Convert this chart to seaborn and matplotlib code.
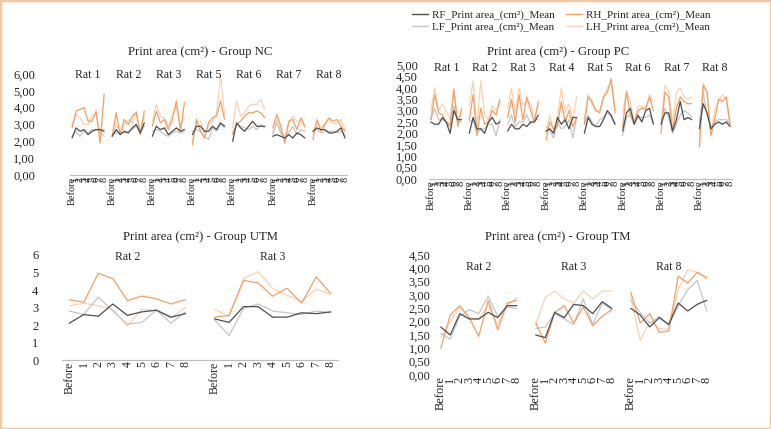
import pandas as pd
import seaborn as sns
import matplotlib.pyplot as plt
from matplotlib.lines import Line2D
from matplotlib.patches import Rectangle
from matplotlib.ticker import FuncFormatter, MultipleLocator

sns.set_style("white")
plt.rcParams['font.family'] = ['Liberation Serif', 'DejaVu Serif']

# time points, same for every rat
times = ["Before", "1", "2", "3", "4", "5", "6", "7", "8"]
colors = {"RF": "#4d4d4d", "LF": "#c6c6c6", "RH": "#f2a064", "LH": "#f9d2b2"}
legend_names = {s: s + "_Print area_(cm²)_Mean" for s in ["RF", "LF", "RH", "LH"]}

# group NC
nc_rats = ["Rat 1", "Rat 2", "Rat 3", "Rat 5", "Rat 6", "Rat 7", "Rat 8"]
nc_rf = [2.2, 2.8, 2.6, 2.7, 2.4, 2.6, 2.7, 2.7, 2.6,
         2.3, 2.7, 2.4, 2.6, 2.5, 2.8, 3.0, 2.5, 3.1,
         2.3, 2.9, 2.7, 2.8, 2.4, 2.6, 2.8, 2.6, 2.7,
         2.4, 2.9, 2.9, 2.6, 2.6, 2.9, 2.7, 3.1, 2.9,
         2.0, 3.1, 2.8, 2.6, 2.9, 3.2, 2.9, 2.9, 2.9,
         2.3, 2.4, 2.3, 2.2, 2.4, 2.2, 2.5, 2.4, 2.2,
         2.6, 2.8, 2.7, 2.7, 2.5, 2.5, 2.6, 2.8, 2.2]
nc_lf = [2.3, 2.6, 2.3, 2.6, 2.5, 2.7, 2.7, 2.6, 2.3,
         2.4, 2.5, 2.5, 2.5, 2.6, 2.7, 2.9, 2.5, 2.9,
         2.6, 2.7, 2.6, 2.4, 2.3, 2.5, 2.6, 2.5, 2.6,
         2.6, 2.7, 2.6, 2.3, 2.1, 2.8, 2.6, 3.0, 2.8,
         2.5, 3.0, 2.9, 2.8, 2.7, 2.9, 2.7, 3.0, 2.8,
         2.4, 3.1, 2.5, 2.1, 2.5, 2.9, 2.4, 2.7, 2.6,
         2.6, 2.7, 2.5, 2.6, 2.6, 2.6, 2.5, 2.6, 2.4]
nc_rh = [2.8, 3.8, 3.9, 4.0, 3.2, 3.2, 3.8, 1.9, 4.8,
         2.3, 3.7, 2.4, 3.3, 3.0, 3.5, 3.7, 2.4, 3.8,
         2.9, 3.8, 3.1, 3.3, 2.7, 3.3, 4.4, 2.6, 4.3,
         1.8, 3.3, 2.6, 2.2, 3.1, 3.4, 3.5, 4.4, 3.3,
         2.4, 3.0, 3.2, 3.5, 3.7, 3.7, 3.8, 3.7, 3.4,
         2.8, 3.6, 2.9, 1.9, 3.2, 3.3, 2.7, 3.4, 2.9,
         2.1, 3.3, 2.6, 3.0, 3.4, 3.2, 3.3, 2.9, 2.6]
nc_lh = [3.0, 3.6, 3.4, 3.0, 3.0, 3.5, 3.6, 2.4, 2.8,
         2.3, 3.0, 2.5, 3.0, 3.3, 3.1, 3.8, 2.6, 3.5,
         3.2, 4.2, 3.5, 3.4, 2.9, 3.6, 4.0, 3.0, 3.4,
         2.0, 3.1, 3.2, 2.5, 2.9, 3.2, 3.7, 5.9, 3.6,
         2.8, 4.4, 3.5, 3.7, 4.1, 4.2, 4.2, 4.5, 3.9,
         2.5, 3.3, 2.6, 2.3, 3.1, 3.5, 3.2, 3.2, 2.8,
         2.4, 3.2, 2.8, 3.1, 3.3, 3.1, 3.1, 3.3, 2.7]

# group PC
pc_rats = ["Rat 1", "Rat 2", "Rat 3", "Rat 4", "Rat 5", "Rat 6", "Rat 7", "Rat 8"]
pc_rf = [2.5, 2.4, 2.4, 2.7, 2.5, 2.0, 3.0, 2.6, 2.6,
         2.0, 2.7, 2.2, 2.2, 2.0, 2.5, 2.7, 2.4, 2.5,
         2.1, 2.4, 2.2, 2.2, 2.4, 2.3, 2.5, 2.5, 2.8,
         2.1, 2.2, 2.0, 2.7, 2.4, 2.6, 2.2, 2.7, 2.7,
         2.0, 2.7, 2.4, 2.3, 2.3, 2.6, 3.0, 2.8, 2.4,
         2.1, 2.9, 3.1, 2.4, 2.8, 2.5, 3.0, 3.1, 2.4,
         2.4, 2.9, 2.9, 2.1, 2.6, 3.4, 2.6, 2.7, 2.6,
         2.2, 3.3, 2.9, 2.2, 2.4, 2.5, 2.4, 2.5, 2.3]
pc_lf = [2.6, 3.1, 2.6, 2.6, 2.5, 2.4, 3.2, 2.5, 2.5,
         2.5, 2.6, 2.0, 2.2, 2.2, 2.4, 2.4, 1.9, 2.6,
         2.4, 2.8, 2.3, 2.5, 2.5, 2.8, 2.4, 2.6, 2.6,
         2.3, 2.1, 1.8, 2.5, 2.2, 2.3, 2.6, 1.8, 2.7,
         2.4, 2.8, 2.5, 2.3, 2.6, 2.7, 2.9, 2.7, 2.4,
         1.9, 2.7, 2.8, 2.5, 2.7, 2.7, 2.7, 2.8, 2.5,
         2.6, 3.1, 2.7, 2.0, 2.4, 2.8, 3.0, 2.9, 2.7,
         2.5, 3.8, 2.8, 2.3, 2.5, 2.6, 2.6, 2.6, 2.4]
pc_rh = [2.6, 3.7, 2.9, 2.8, 2.5, 2.3, 3.9, 2.3, 3.1,
         2.6, 3.7, 1.9, 3.1, 2.4, 2.5, 3.0, 2.8, 3.5,
         2.7, 3.5, 2.5, 3.7, 2.6, 3.6, 3.0, 2.5, 3.4,
         1.7, 2.5, 2.2, 2.3, 3.4, 2.5, 3.0, 2.3, 2.7,
         2.4, 3.6, 3.4, 3.0, 2.9, 3.6, 3.8, 4.4, 2.9,
         2.3, 3.8, 2.8, 2.4, 3.0, 3.1, 3.1, 3.6, 3.0,
         2.0, 3.8, 3.6, 2.1, 3.1, 3.6, 3.4, 3.3, 3.3,
         1.4, 4.1, 3.8, 1.9, 2.6, 3.5, 3.4, 3.6, 2.4]
pc_lh = [3.0, 4.0, 3.0, 3.3, 3.0, 2.6, 4.0, 2.5, 2.9,
         3.2, 4.3, 2.3, 4.3, 2.8, 2.6, 3.2, 3.0, 3.4,
         3.1, 4.0, 2.9, 4.0, 3.2, 3.4, 3.3, 2.7, 3.2,
         2.0, 2.8, 2.0, 2.7, 4.0, 2.9, 3.3, 2.6, 3.6,
         2.6, 3.7, 3.3, 3.0, 3.0, 3.6, 4.0, 4.2, 3.1,
         2.9, 3.9, 3.4, 2.5, 3.2, 3.2, 3.0, 3.7, 3.4,
         2.3, 4.1, 3.9, 2.4, 3.8, 4.0, 3.6, 3.5, 3.6,
         1.8, 4.2, 3.8, 2.0, 3.0, 3.4, 3.7, 3.5, 2.3]

# group UTM
utm_rats = ["Rat 2", "Rat 3"]
utm_rf = [2.1, 2.6, 2.5, 3.2, 2.55, 2.75, 2.85, 2.45, 2.65,
          2.35, 2.15, 3.05, 3.05, 2.45, 2.45, 2.7, 2.65, 2.75]
utm_lf = [2.8, 2.6, 3.6, 2.8, 2.05, 2.15, 2.85, 2.1, 2.75,
          2.3, 1.4, 2.95, 3.2, 2.8, 2.7, 2.6, 2.8, 2.7]
utm_rh = [3.45, 3.3, 4.95, 4.65, 3.4, 3.65, 3.5, 3.2, 3.45,
          2.45, 2.55, 4.55, 4.4, 3.65, 4.1, 3.25, 4.75, 3.8]
utm_lh = [3.1, 3.25, 3.1, 2.9, 1.95, 2.9, 2.8, 2.4, 3.0,
          2.9, 2.5, 4.65, 5.05, 4.1, 3.7, 3.35, 4.05, 3.75]

# group TM
tm_rats = ["Rat 2", "Rat 3", "Rat 8"]
tm_rf = [1.8, 1.5, 2.3, 2.1, 2.1, 2.35, 2.15, 2.6, 2.6,
         1.5, 1.4, 2.35, 2.15, 2.65, 2.6, 2.3, 2.75, 2.5,
         2.5, 2.25, 1.8, 2.15, 1.9, 2.7, 2.4, 2.65, 2.8]
tm_lf = [1.55, 1.35, 2.2, 2.45, 2.3, 2.95, 2.2, 2.55, 2.5,
         1.75, 1.8, 2.3, 2.1, 1.9, 2.85, 1.9, 2.7, 2.45,
         2.8, 2.35, 1.95, 2.2, 1.85, 2.6, 3.2, 3.55, 2.4]
tm_rh = [1.0, 2.25, 2.6, 2.15, 1.45, 2.8, 1.7, 2.7, 2.8,
         1.95, 1.2, 2.35, 2.6, 1.95, 2.55, 1.85, 2.2, 2.45,
         3.1, 1.95, 2.3, 1.6, 1.65, 3.7, 3.45, 3.85, 3.65]
tm_lh = [1.4, 2.0, 2.55, 2.15, 2.1, 2.6, 1.9, 2.6, 2.9,
         1.9, 2.9, 3.15, 2.85, 2.7, 3.15, 2.85, 3.15, 3.15,
         2.9, 1.3, 2.0, 1.75, 1.7, 3.2, 3.95, 3.85, 3.6]


def make_df(rats, rf, lf, rh, lh):
    # one blank category between rats, like the excel sheet
    rows = []
    for name, vals in [("RF", rf), ("LF", lf), ("RH", rh), ("LH", lh)]:
        for i, rat in enumerate(rats):
            for j, t in enumerate(times):
                rows.append({"pos": i * 10 + j, "rat": rat, "time": t,
                             "series": name, "value": vals[i * 9 + j]})
    return pd.DataFrame(rows)


def comma(v, dec):
    return f"{v:.{dec}f}".replace(".", ",")


def draw(ax, rats, df, ymax, step, dec, ypad, xfs, rat_y, bottom_line=True):
    sns.lineplot(data=df, x="pos", y="value", hue="series", units="rat",
                 estimator=None, palette=colors, hue_order=["LH", "LF", "RH", "RF"],
                 linewidth=0.9, legend=False, ax=ax)
    n = len(rats) * 10 - 1
    ax.set_xlim(-0.5, n - 0.5)
    ax.set_ylim(0, ymax)
    ax.yaxis.set_major_locator(MultipleLocator(step))
    ax.yaxis.set_major_formatter(FuncFormatter(lambda v, p: comma(v, dec)))
    ticks = [i * 10 + j for i in range(len(rats)) for j in range(9)]
    ax.set_xticks(ticks)
    ax.set_xticklabels(times * len(rats), rotation=90, fontsize=xfs)
    ax.tick_params(axis="y", length=0, pad=ypad, labelsize=9)
    ax.tick_params(axis="x", length=0, pad=1)
    ax.set_xlabel("")
    ax.set_ylabel("")
    ax.set_facecolor("none")
    for s in ["top", "right", "left"]:
        ax.spines[s].set_visible(False)
    ax.spines["bottom"].set_visible(bottom_line)
    ax.spines["bottom"].set_color("#bdbdbd")
    ax.spines["bottom"].set_linewidth(0.8)
    for i, rat in enumerate(rats):
        ax.text(i * 10 + 4, rat_y, rat, transform=ax.get_xaxis_transform(),
                ha="center", va="center", fontsize=8.5)


fig = plt.figure(figsize=(7.71, 4.29), dpi=100)

ax_nc = fig.add_axes([0.0908, 0.592, 0.3593, 0.2354])
draw(ax_nc, nc_rats, make_df(nc_rats, nc_rf, nc_lf, nc_rh, nc_lh),
     6, 1, 2, 25, 7.5, 0.99)

ax_pc = fig.add_axes([0.5564, 0.5828, 0.393, 0.2657])
draw(ax_pc, pc_rats, make_df(pc_rats, pc_rf, pc_lf, pc_rh, pc_lh),
     5, 0.5, 2, 8, 7.8, 0.97)

ax_utm = fig.add_axes([0.0804, 0.1608, 0.358, 0.2448])
draw(ax_utm, utm_rats, make_df(utm_rats, utm_rf, utm_lf, utm_rh, utm_lh),
     6, 1, 0, 17, 8.5, 0.98)

ax_tm = fig.add_axes([0.5655, 0.1259, 0.3573, 0.2797])
draw(ax_tm, tm_rats, make_df(tm_rats, tm_rf, tm_lf, tm_rh, tm_lh),
     4.5, 0.5, 2, 4, 9, 0.9, bottom_line=False)

title = "Print area (cm²) - Group "
fig.text(200 / 771, 1 - 52 / 429, title + "NC", ha="center", va="center", fontsize=9.2)
fig.text(558 / 771, 1 - 52 / 429, title + "PC", ha="center", va="center", fontsize=9.2)
fig.text(200 / 771, 1 - 237 / 429, title + "UTM", ha="center", va="center", fontsize=9.2)
fig.text(558 / 771, 1 - 237 / 429, title + "TM", ha="center", va="center", fontsize=9.2)

handles = [Line2D([], [], color=colors[s], lw=1.0) for s in ["RF", "LF", "RH", "LH"]]
labels = [legend_names[s] for s in ["RF", "LF", "RH", "LH"]]
fig.legend(handles, labels, ncol=2, loc="upper left", bbox_to_anchor=(0.521, 1.0),
           frameon=False, fontsize=8, handlelength=1.5, handletextpad=0.3,
           columnspacing=1.0, labelspacing=0.2)

fig.patches.append(Rectangle((0, 0), 1, 1, transform=fig.transFigure, fill=False,
                             edgecolor="#f8c7a0", linewidth=2.5))

fig.savefig("out.png", dpi=100)
